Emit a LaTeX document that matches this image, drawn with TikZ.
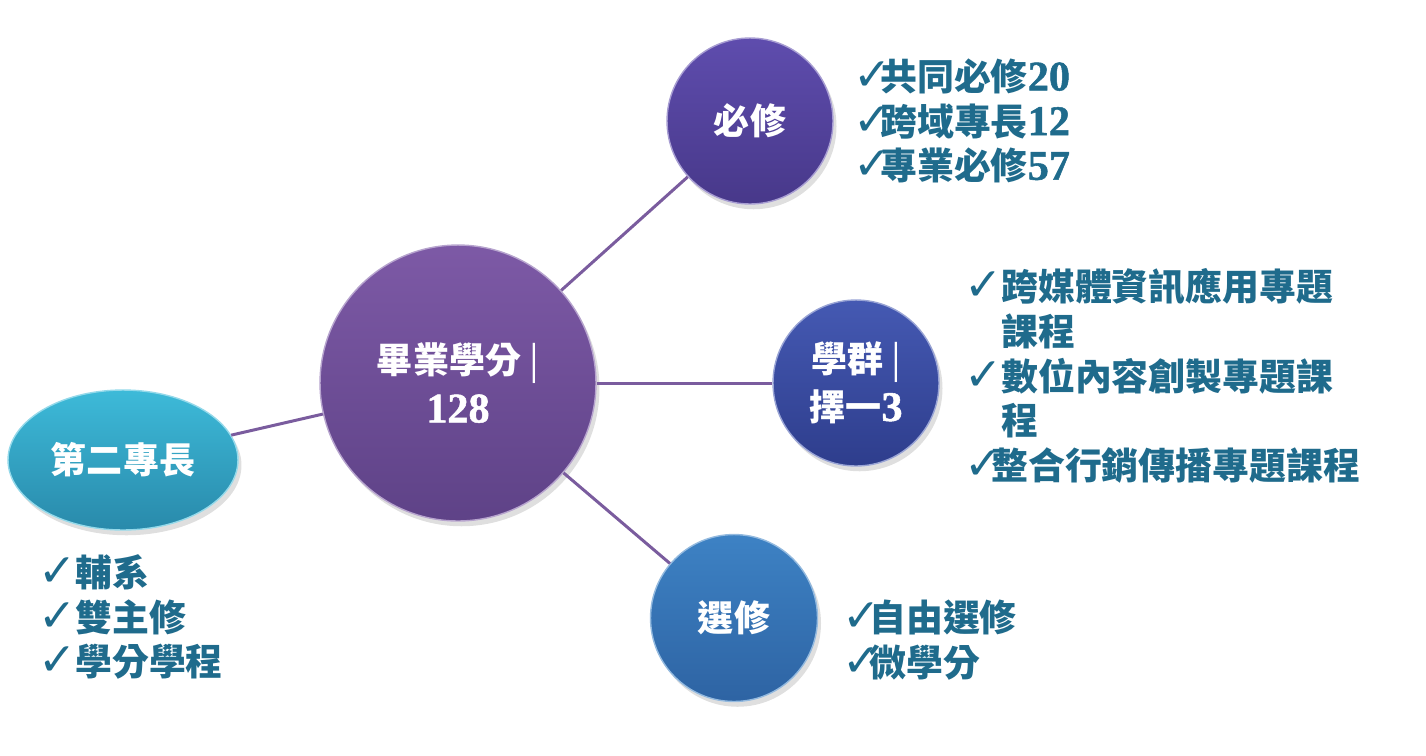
\documentclass[tikz,border=0pt]{standalone}
\usepackage{fontspec}
\usetikzlibrary{shapes.geometric,shadows}
\newfontfamily\cjk{Noto Sans CJK TC}
\newfontfamily\sym{DejaVu Sans}
\newfontfamily\num{Liberation Serif Bold}[FakeBold=1.2]
\definecolor{textblue}{rgb}{0.12, 0.42, 0.55}
\definecolor{linkpurple}{rgb}{0.48, 0.36, 0.62}
\definecolor{gradtop}{rgb}{0.49, 0.35, 0.65}
\definecolor{gradbot}{rgb}{0.37, 0.26, 0.53}
\definecolor{reqtop}{rgb}{0.37, 0.30, 0.68}
\definecolor{reqbot}{rgb}{0.28, 0.22, 0.54}
\definecolor{grptop}{rgb}{0.27, 0.35, 0.70}
\definecolor{grpbot}{rgb}{0.18, 0.24, 0.55}
\definecolor{electop}{rgb}{0.24, 0.51, 0.77}
\definecolor{elecbot}{rgb}{0.18, 0.39, 0.64}
\definecolor{sectop}{rgb}{0.24, 0.73, 0.85}
\definecolor{secbot}{rgb}{0.16, 0.54, 0.67}
\newcommand{\ck}{\makebox[15.3pt][l]{\sym\fontsize{26}{25}\selectfont\char"2713}}
\newcommand{\cks}{\makebox[21pt][l]{\sym\fontsize{26}{25}\selectfont\char"2713}}
\newcommand{\nb}[1]{{\num\fontsize{24}{25.6}\selectfont #1}}
\newcommand{\sepbar}{{\mdseries|}}

\begin{document}
\begin{tikzpicture}[x=0.02cm,y=-0.02cm,
	bubble/.style={circle,inner sep=0pt,text=white,align=center,
		font=\cjk\bfseries\fontsize{20.5}{25.6}\selectfont,
		drop shadow={opacity=0.25,shadow xshift=2pt,shadow yshift=-3pt}},
	itemlist/.style={anchor=west,align=left,text=textblue,inner sep=0pt,
		font=\cjk\bfseries\fontsize{21}{25.4}\selectfont},
	link/.style={draw=linkpurple,line width=1.7pt}]
	 	 		\useasboundingbox (0,0) rectangle (1426,755);
	 	 		\coordinate (C) at (458,383);
	 	 		\node[bubble,minimum size=5.52cm,top color=gradtop,bottom color=gradbot,draw=gradtop!55!white,line width=0.8pt] (grad) at (C) {畢業學分 \sepbar\\[2pt]\nb{128}};
	 	 		\node[bubble,minimum size=3.32cm,top color=reqtop,bottom color=reqbot,draw=reqtop!55!white,line width=0.8pt] (req) at (750,121) {必修};
	 	 		\node[bubble,minimum size=3.32cm,top color=grptop,bottom color=grpbot,draw=grptop!55!white,line width=0.8pt] (grp) at (856,383) {學群 \sepbar\\[2pt]擇一\nb{3}};
	 	 		\node[bubble,minimum size=3.34cm,top color=electop,bottom color=elecbot,draw=electop!55!white,line width=0.8pt] (elec) at (734,618) {選修};
	 	 		\node[bubble,ellipse,minimum width=4.6cm,minimum height=2.8cm,top color=sectop,bottom color=secbot,draw=sectop!55!white,line width=0.8pt] (sec) at (123,460) {第二專長};
	 	 		\draw[link] (grad) -- (req);
	 	 		\draw[link] (grad) -- (grp);
	 	 		\draw[link] (grad) -- (elec);
	 	 		\draw[link] (grad) -- (sec);
	 	 		\node[itemlist] (reqlist) at (853,121) {\ck 共同必修\nb{20}\\\ck 跨域專長\nb{12}\\\ck 專業必修\nb{57}};
	 	 		\node[itemlist] (grplist) at (964,376) {\cks 跨媒體資訊應用專題\\\phantom{\cks}課程\\\cks 數位內容創製專題課\\\phantom{\cks}程\\\ck 整合行銷傳播專題課程};
	 	 		\node[itemlist] (eleclist) at (842,640) {\ck 自由選修\\\ck 微學分};
	 	 		\node[itemlist] (seclist) at (38,617) {\cks 輔系\\\cks 雙主修\\\cks 學分學程};
	 	 		\end{tikzpicture}
\end{document}
